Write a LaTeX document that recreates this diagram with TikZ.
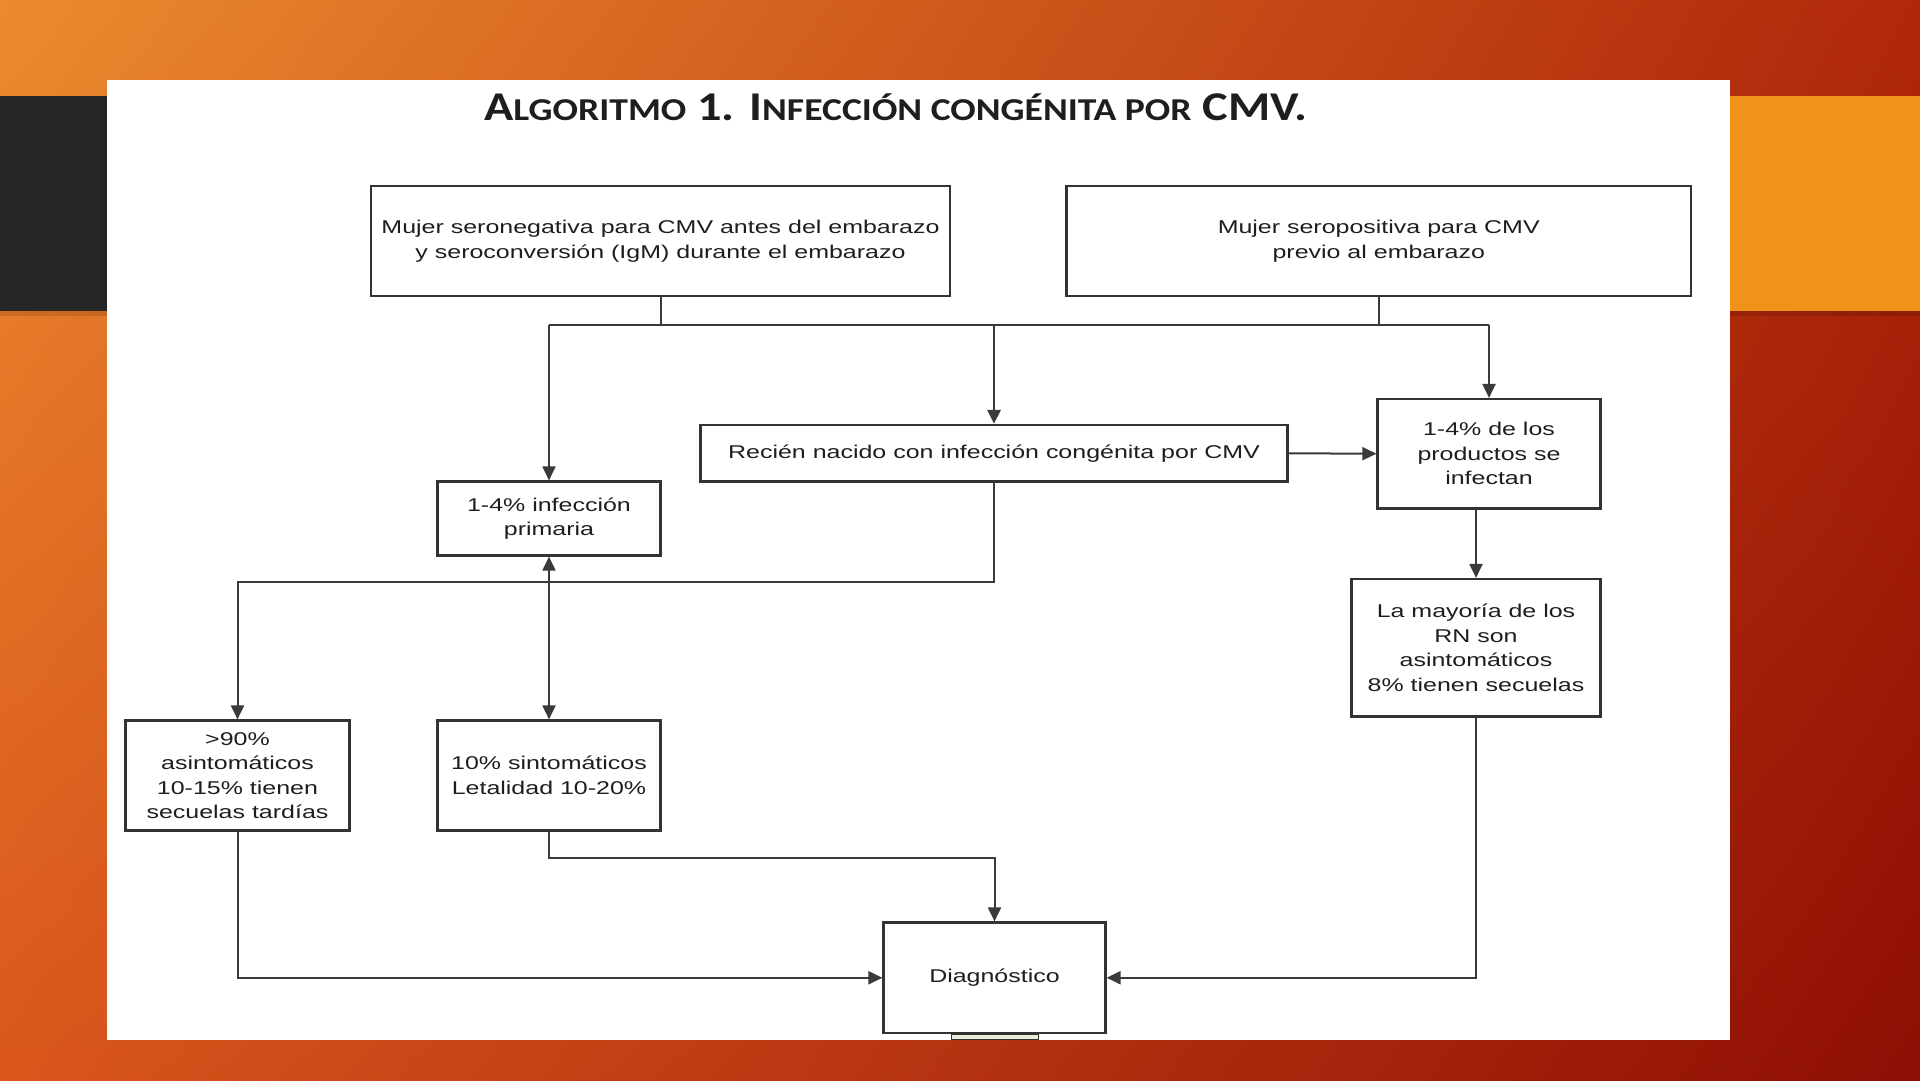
\documentclass[tikz,border=0pt]{standalone}
\usepackage{fontspec}
\setmainfont[FakeStretch=1.35]{Liberation Sans}
\newfontfamily\titlefont{Carlito}
\usetikzlibrary{arrows.meta,shadings}
\definecolor{bgUL}{HTML}{EC8A2E}
\definecolor{bgUR}{HTML}{B0280A}
\definecolor{bgLL}{HTML}{D9561C}
\definecolor{bgLR}{HTML}{8E0E04}
\definecolor{charcoal}{HTML}{262626}
\definecolor{accentorange}{HTML}{F0931A}
\definecolor{boxgray}{HTML}{333333}
\definecolor{linegray}{HTML}{3A3A3A}
\definecolor{txtgray}{HTML}{1E1E1E}
\definecolor{paleGreen}{HTML}{E6EDD8}
\tikzset{
  flowbox/.style={draw=boxgray, line width=2.2pt, fill=white, inner sep=0pt,
    align=center, text=txtgray, font=\fontsize{18.5}{24.5}\selectfont},
  conn/.style={draw=linegray, line width=2pt},
  arr/.style={conn, -{Triangle[length=14pt,width=13pt]}},
  dblarr/.style={conn, {Triangle[length=14pt,width=13pt]}-{Triangle[length=14pt,width=13pt]}}
}
\begin{document}
\begin{tikzpicture}[x=1pt,y=-1pt]
\useasboundingbox (0,0) rectangle (1920,1080);
% background
\begin{scope}[y=1pt]
\shade[upper left=bgUL, upper right=bgUR, lower left=bgLL, lower right=bgLR]
  (0,-1080) rectangle (1920,0);
\end{scope}
\fill[charcoal] (0,96) rectangle (106.5,311);
\fill[accentorange] (1730,96) rectangle (1920,311);
\fill[black, opacity=0.12] (1730,311) rectangle (1920,316);
\fill[black, opacity=0.12] (0,311) rectangle (106.5,316);
% white panel
\fill[white] (106.5,79.5) rectangle (1730,1039.5);
% title
\node[anchor=base west, inner sep=0pt, text=txtgray] (title) at (484,120.7)
  {\resizebox{823pt}{26.5pt}{\titlefont\bfseries\fontsize{34}{34}\selectfont
   \smash{A{\fontsize{26.5}{26.5}\selectfont LGORITMO} 1. I{\fontsize{26.5}{26.5}\selectfont NFECCIÓN CONGÉNITA POR} CMV.}\vphantom{A}}};
% boxes
\node[flowbox, minimum width=579pt, minimum height=110.5pt] (A) at (660.5,241)
  {Mujer seronegativa para CMV antes del embarazo\\y seroconversión (IgM) durante el embarazo};
\node[flowbox, minimum width=624.5pt, minimum height=110.5pt] (B) at (1378.75,241)
  {Mujer seropositiva para CMV\\previo al embarazo};
\node[flowbox, minimum width=587pt, minimum height=56.5pt] (C) at (994,453.25)
  {Recién nacido con infección congénita por CMV};
\node[flowbox, minimum width=223pt, minimum height=74pt] (D) at (549,518.5)
  {1-4\% infección\\primaria};
\node[flowbox, minimum width=223pt, minimum height=109.5pt] (E) at (1489,453.75)
  {1-4\% de los\\productos se\\infectan};
\node[flowbox, minimum width=249pt, minimum height=137.5pt] (F) at (1476,647.75)
  {La mayoría de los\\RN son\\asintomáticos\\8\% tienen secuelas};
\node[flowbox, minimum width=224pt, minimum height=110pt] (G) at (237.5,775.5)
  {>90\%\\asintomáticos\\10-15\% tienen\\secuelas tardías};
\node[flowbox, minimum width=223pt, minimum height=110pt] (H) at (549,775.5)
  {10\% sintomáticos\\Letalidad 10-20\%};
\node[flowbox, minimum width=222pt, minimum height=110.5pt] (I) at (994.5,977.75)
  {Diagnóstico};
% small strip under Diagnóstico
\filldraw[fill=paleGreen, draw=boxgray, line width=1pt] (951.5,1034) rectangle (1038,1039.5);
% connectors
\coordinate (busL) at (549,324.5);
\coordinate (busR) at (1489,324.5);
\coordinate (j) at (994,582);
\coordinate (hb) at (549,857.5);
\draw[conn] (busL) -- (busR);
\draw[conn] (A.south) -- (A.south |- busL);
\draw[conn] (B.south) -- (B.south |- busL);
\draw[arr] (busL) -- (D.north);
\draw[arr, line width=2.8pt] (C.north |- busL) -- (C.north);
\draw[arr] (busR) -- (E.north);
\draw[arr] (C.east) -- (E.west);
\draw[arr] (F.north |- E.south) -- (F.north);
\draw[arr] (C.south) -- (C.south |- j) -- (G.north |- j) -- (G.north);
\draw[dblarr] (D.south) -- (H.north);
\draw[arr] (G.south) |- (I.west);
\draw[arr] (F.south) |- (I.east);
\draw[arr] (H.south) -- (hb) -| (I.north);
\end{tikzpicture}
\end{document}
